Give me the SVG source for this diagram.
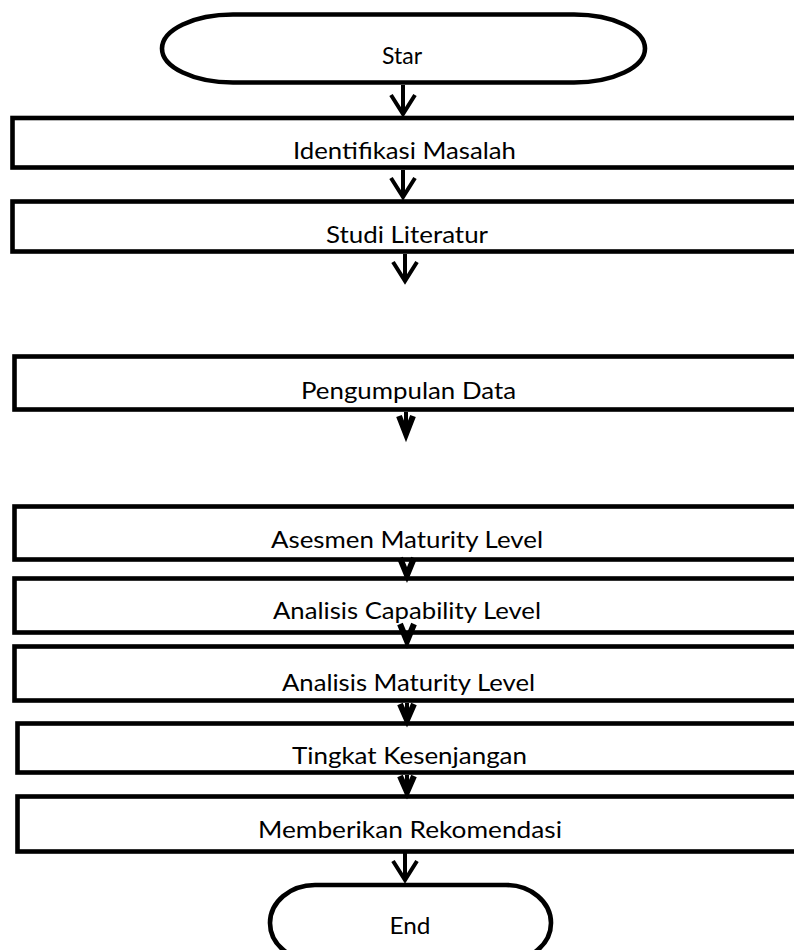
<svg xmlns="http://www.w3.org/2000/svg" width="794" height="950" viewBox="0 0 794 950">
<style>
.box{fill:#fff;stroke:#000;stroke-width:4.6}
.term{fill:#fff;stroke:#000;stroke-width:4.6}
.lbl{font-family:Lato,"Liberation Sans",sans-serif;font-size:24px;fill:#000;text-anchor:middle}
.ln{stroke:#000;stroke-width:4;fill:none}
.hd{stroke:#000;stroke-width:4;fill:none;stroke-linejoin:miter}
.hf{stroke:#000;stroke-width:6;fill:none;stroke-linejoin:miter}
</style>
<rect width="794" height="950" fill="#fff"/>
<g id="start">
<path class="term" d="M233,14.5 H574 A71,34 0 0 1 574,82.5 H233 A71,34 0 0 1 233,14.5 Z"/>
<text class="lbl" x="402" y="64" textLength="40" lengthAdjust="spacingAndGlyphs">Star</text>
</g>
<g id="n1">
<rect class="box" x="12.5" y="118" width="800" height="49.5"/>
<text class="lbl" x="404.5" y="159" textLength="223" lengthAdjust="spacingAndGlyphs">Identifikasi Masalah</text>
</g>
<g id="n2">
<rect class="box" x="12.5" y="201.5" width="800" height="50"/>
<text class="lbl" x="407" y="243" textLength="162" lengthAdjust="spacingAndGlyphs">Studi Literatur</text>
</g>
<g id="n3">
<rect class="box" x="14.5" y="356.5" width="800" height="53"/>
<text class="lbl" x="408.5" y="399" textLength="215" lengthAdjust="spacingAndGlyphs">Pengumpulan Data</text>
</g>
<g id="n4">
<rect class="box" x="14.5" y="506.5" width="800" height="53"/>
<text class="lbl" x="407" y="548" textLength="272" lengthAdjust="spacingAndGlyphs">Asesmen Maturity Level</text>
</g>
<g id="n5">
<rect class="box" x="14.5" y="578.5" width="800" height="54"/>
<text class="lbl" x="407" y="619" textLength="268" lengthAdjust="spacingAndGlyphs">Analisis Capability Level</text>
</g>
<g id="n6">
<rect class="box" x="14.5" y="646.5" width="800" height="54"/>
<text class="lbl" x="408.5" y="691" textLength="253" lengthAdjust="spacingAndGlyphs">Analisis Maturity Level</text>
</g>
<g id="n7">
<rect class="box" x="17.5" y="723.5" width="800" height="49"/>
<text class="lbl" x="409.5" y="764" textLength="235" lengthAdjust="spacingAndGlyphs">Tingkat Kesenjangan</text>
</g>
<g id="n8">
<rect class="box" x="17.5" y="796.5" width="800" height="55"/>
<text class="lbl" x="410" y="838" textLength="304" lengthAdjust="spacingAndGlyphs">Memberikan Rekomendasi</text>
</g>
<g id="end">
<path class="term" d="M315,885 H506 A45,38 0 0 1 506,961 H315 A45,38 0 0 1 315,885 Z"/>
<text class="lbl" x="410" y="934" textLength="41" lengthAdjust="spacingAndGlyphs">End</text>
</g>
<g id="connectors">
<line class="ln" x1="403" y1="85" x2="403" y2="114"/>
<polyline class="hd" points="391,95 403,114 415,95"/>
<line class="ln" x1="403" y1="170" x2="403" y2="197"/>
<polyline class="hd" points="391,178 403,197 415,178"/>
<line class="ln" x1="405" y1="254" x2="405" y2="281"/>
<polyline class="hd" points="393,262 405,281 417,262"/>
<line class="ln" x1="406" y1="412" x2="406" y2="434"/>
<polyline class="hf" points="399,416 406,434 413,416"/>
<polyline class="hf" points="400,558 407,575 414,558"/>
<polyline class="hf" points="400,624 407,641 414,624"/>
<line class="ln" x1="407" y1="703" x2="407" y2="720"/>
<polyline class="hf" points="400,704 407,720 414,704"/>
<line class="ln" x1="407" y1="775" x2="407" y2="792"/>
<polyline class="hf" points="400,776 407,792 414,776"/>
<line class="ln" x1="405" y1="853" x2="405" y2="880"/>
<polyline class="hd" points="393,861 405,880 417,861"/>
</g>
</svg>
